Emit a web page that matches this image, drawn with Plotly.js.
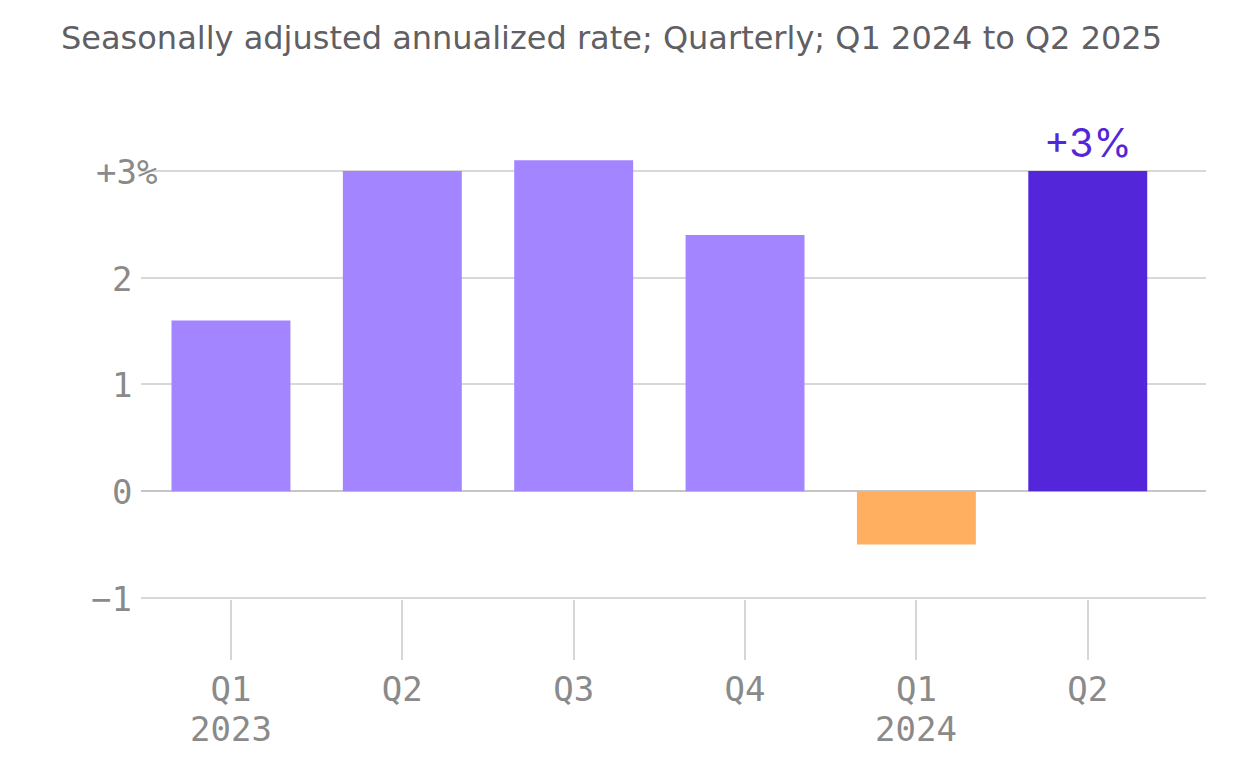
<!DOCTYPE html>
<html>
<head>
<meta charset="utf-8">
<script src="https://cdn.plot.ly/plotly-3.0.1.min.js"></script>
<style>html,body{margin:0;padding:0;background:#fff;}#chart{width:1242px;height:762px;}</style>
</head>
<body>
<div id="chart"></div>
<script>
// ---- data ----
const categories = ['Q1 2023', 'Q2 2023', 'Q3 2023', 'Q4 2023', 'Q1 2024', 'Q2 2024'];
const quarterLabels = ['Q1', 'Q2', 'Q3', 'Q4', 'Q1', 'Q2'];
const yearLabels = ['2023', '', '', '', '2024', ''];
const values = [1.6, 3.0, 3.1, 2.4, -0.5, 3.0];
const yTickVals = [-1, 0, 1, 2, 3];
const yTickText = ['\u22121', '0', '1', '2', '+3%'];
const lastLabel = '+3%';

// ---- styles ----
const cLight = '#a285ff', cDark = '#5326d9', cNeg = '#ffaf5f';
const colors = values.map((v, i) => i === values.length - 1 ? cDark : (v < 0 ? cNeg : cLight));
const gray = '#8a8a8a';
const mono = '"DejaVu Sans Mono", monospace';

const annotations = [];
yTickVals.forEach((v, i) => {
  const isTop = i === yTickVals.length - 1;
  annotations.push({
    xref: 'paper', yref: 'y', x: 0, y: v, text: yTickText[i],
    xanchor: 'right', yanchor: 'middle', showarrow: false,
    xshift: isTop ? 18 : -7, yshift: -1,
    font: {family: mono, size: 34, color: gray}
  });
});
categories.forEach((c, i) => {
  if (yearLabels[i]) {
    annotations.push({
      xref: 'x', yref: 'paper', x: c, y: 0, text: yearLabels[i],
      xanchor: 'center', yanchor: 'middle', showarrow: false, yshift: -130,
      font: {family: mono, size: 34, color: gray}
    });
  }
});
annotations.push({
  xref: 'x', yref: 'y', x: categories[categories.length - 1], y: values[values.length - 1],
  text: lastLabel, showarrow: false, xanchor: 'center', yanchor: 'bottom', yshift: 3,
  font: {family: 'Inter, "Noto Sans", sans-serif', size: 39, color: cDark}
});

const trace = {
  type: 'bar', x: categories, y: values,
  marker: {color: colors, line: {width: 0}},
  hoverinfo: 'none'
};

const layout = {
  width: 1242, height: 762,
  margin: {l: 141, r: 36, t: 139, b: 163, pad: 0},
  paper_bgcolor: '#fff', plot_bgcolor: '#fff',
  showlegend: false,
  bargap: 0.306,
  title: {
    text: 'Seasonally adjusted annualized rate; Quarterly; Q1 2024 to Q2 2025',
    x: 0, xref: 'paper', xanchor: 'left', y: 1, yref: 'container', yanchor: 'top',
    pad: {t: 27, l: -80},
    font: {family: '"DejaVu Sans", sans-serif', size: 32, color: '#5f5f64'}
  },
  xaxis: {
    type: 'category', range: [-0.525, 5.69],
    tickvals: categories, ticktext: quarterLabels,
    ticks: 'outside', ticklen: 60, tickwidth: 2, tickcolor: '#d6d6d6',
    showgrid: false, showline: false, zeroline: false,
    tickfont: {family: mono, size: 34, color: gray},
    fixedrange: true
  },
  yaxis: {
    range: [-1.01, 3.3], tickvals: yTickVals, showticklabels: false,
    showgrid: true, gridcolor: '#d8d8d8', gridwidth: 2,
    zeroline: true, zerolinecolor: '#c6c6c6', zerolinewidth: 2,
    showline: false, ticks: '', fixedrange: true
  },
  shapes: [{
    type: 'rect', layer: 'between', xref: 'paper', yref: 'y',
    x0: 0, x1: 0.02, y0: 2.98, y1: 3.02, fillcolor: '#fff', line: {width: 0}
  }],
  annotations: annotations
};

Plotly.newPlot('chart', [trace], layout, {displayModeBar: false, staticPlot: true});
</script>
</body>
</html>
